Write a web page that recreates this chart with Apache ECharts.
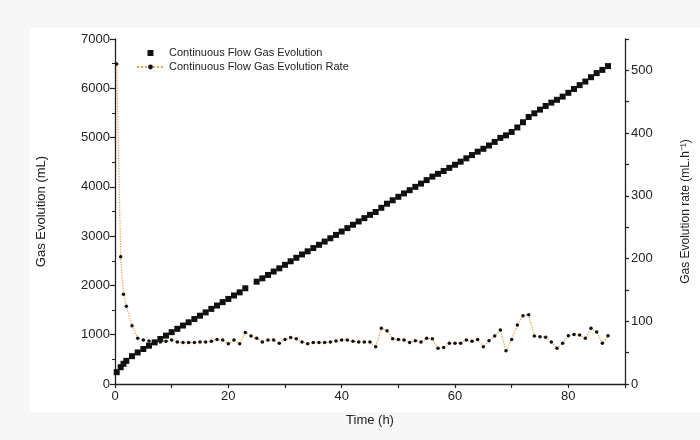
<!DOCTYPE html>
<html>
<head>
<meta charset="utf-8">
<script src="https://cdn.jsdelivr.net/npm/echarts@6/dist/echarts.min.js"></script>
<style>
html,body{margin:0;padding:0;background:#f7f7f7;}
#chart{width:700px;height:440px;}
</style>
</head>
<body>
<div id="chart"></div>
<script>
// Time points (h)
const times = [0.3, 1, 1.5, 2, 3, 4, 5, 6, 7, 8, 9, 10, 11, 12, 13, 14, 15, 16, 17, 18, 19, 20,
  21, 22, 23, 24, 25, 26, 27, 28, 29, 30, 31, 32, 33, 34, 35, 36, 37, 38, 39, 40,
  41, 42, 43, 44, 45, 46, 47, 48, 49, 50, 51, 52, 53, 54, 55, 56, 57, 58, 59, 60,
  61, 62, 63, 64, 65, 66, 67, 68, 69, 70, 71, 72, 73, 74, 75, 76, 77, 78, 79, 80,
  81, 82, 83, 84, 85, 86, 87];

// Cumulative gas evolution (mL)
const gasEvolution = [240, 340, 410, 470, 565, 640, 710, 778, 845, 913, 982, 1052, 1120, 1186, 1252, 1318, 1386, 1453, 1524, 1592, 1662, 1726,
  1796, 1860, 1942, null, 2076, 2144, 2213, 2282, 2347, 2418, 2490, 2561, 2628, 2692, 2758, 2824, 2890, 2957, 3025, 3094,
  3163, 3231, 3298, 3365, 3432, 3490, 3575, 3658, 3728, 3798, 3867, 3932, 4000, 4066, 4137, 4208, 4264, 4322, 4385, 4448,
  4511, 4579, 4645, 4714, 4772, 4839, 4912, 4994, 5045, 5114, 5205, 5311, 5418, 5492, 5567, 5641, 5709, 5766, 5831, 5908,
  5986, 6064, 6137, 6225, 6308, 6373, 6450];

// Gas evolution rate (mL/h)
const gasRate = [510, 203, 143, 124, 93, 73, 70, 68.5, 67, 67, 68, 70, 67, 66, 66, 66, 67, 67, 68, 71, 70, 64,
  70, 64, 82, 76.5, 73, 67, 70, 70, 65, 71, 74, 72, 67, 64, 66, 66, 66, 67, 68.5, 70,
  70, 68, 67, 67, 67, 59.5, 88.7, 85, 72, 71, 70, 66, 69, 67, 73, 72, 57, 58, 65, 65,
  65, 70, 68, 71, 59.5, 69, 76.5, 86, 53, 71, 94, 109, 110.5, 76.5, 75.5, 74.5, 67, 57, 65, 77,
  79, 78, 73, 89, 83, 65, 77];

const seriesNames = ['Continuous Flow Gas Evolution', 'Continuous Flow Gas Evolution Rate'];
const axisNames = { x: 'Time (h)', left: 'Gas Evolution (mL)', right: 'Gas Evolution rate (mL.h\u207B\u00B9)' };

const cumData = times.map((t, i) => [t, gasEvolution[i]]);
const rateData = times.map((t, i) => [t, gasRate[i]]);

const FONT = "'Liberation Sans', Arial, sans-serif";
const AX = '#222';

const chart = echarts.init(document.getElementById('chart'), null, { renderer: 'canvas' });
chart.setOption({
  backgroundColor: 'transparent',
  animation: false,
  graphic: [{ type: 'rect', left: 30, top: 28, shape: { width: 670, height: 384 }, style: { fill: '#ffffff' }, z: -10, silent: true }],
  textStyle: { fontFamily: FONT },
  grid: { left: 115, right: 75, top: 39, bottom: 56 },
  legend: {
    orient: 'vertical',
    left: 131, top: 42,
    itemWidth: 27, itemHeight: 6, itemGap: 2,
    textStyle: { fontFamily: FONT, fontSize: 11, color: '#222', lineHeight: 12 },
    data: [
      { name: seriesNames[0], icon: 'path://M0,0h5v5h-5z' },
      { name: seriesNames[1] }
    ]
  },
  xAxis: {
    type: 'value', min: 0, max: 90, interval: 10,
    name: axisNames.x, nameLocation: 'middle', nameGap: 30,
    nameTextStyle: { fontFamily: FONT, fontSize: 13, color: '#222' },
    axisLine: { show: true, onZero: false, lineStyle: { color: AX, width: 1.3 } },
    axisTick: { show: true, length: 4, lineStyle: { color: AX, width: 1.2 } },
    axisLabel: { fontFamily: FONT, fontSize: 13, color: '#222', margin: 6,
      formatter: v => (v % 20 === 0 ? String(v) : '') },
    splitLine: { show: false }
  },
  yAxis: [{
    type: 'value', min: 0, max: 7000, interval: 1000, position: 'left',
    name: axisNames.left, nameLocation: 'middle', nameGap: 67, nameRotate: 90,
    nameTextStyle: { fontFamily: FONT, fontSize: 13, color: '#222' },
    axisLine: { show: true, onZero: false, lineStyle: { color: AX, width: 1.3 } },
    axisTick: { show: true, length: 5, lineStyle: { color: AX, width: 1.2 } },
    minorTick: { show: true, splitNumber: 2, length: 3, lineStyle: { color: AX, width: 1 } },
    axisLabel: { fontFamily: FONT, fontSize: 13, color: '#222', margin: 5, formatter: v => String(v) },
    splitLine: { show: false }
  }, {
    type: 'value', min: 0, max: 550, interval: 50, position: 'right',
    name: axisNames.right, nameLocation: 'middle', nameGap: 55, nameRotate: 90,
    nameTextStyle: { fontFamily: FONT, fontSize: 12, color: '#222' },
    axisLine: { show: true, onZero: false, lineStyle: { color: AX, width: 1.3 } },
    axisTick: { show: true, length: 4, lineStyle: { color: AX, width: 1.2 } },
    axisLabel: { fontFamily: FONT, fontSize: 13, color: '#222', margin: 6,
      formatter: v => (v % 100 === 0 ? String(v) : '') },
    splitLine: { show: false }
  }],
  series: [{
    name: seriesNames[0], type: 'scatter', yAxisIndex: 0,
    symbol: 'rect', symbolSize: 6,
    itemStyle: { color: '#111', opacity: 1 },
    data: cumData, z: 3
  }, {
    name: seriesNames[1], type: 'line', yAxisIndex: 1,
    symbol: 'circle', symbolSize: 3.5, showSymbol: true,
    itemStyle: { color: '#111' },
    lineStyle: { color: '#f0a050', width: 1.3, type: 'dotted' },
    data: rateData, z: 2
  }]
});
</script>
</body>
</html>
